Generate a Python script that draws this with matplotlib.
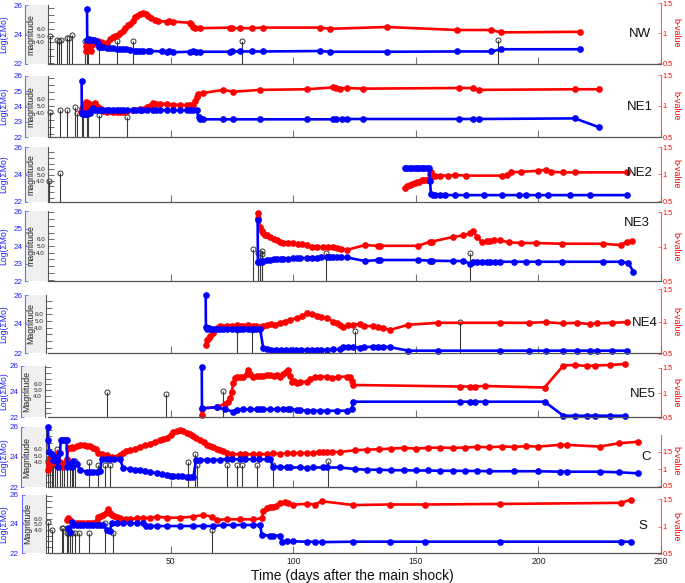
import matplotlib
matplotlib.use('Agg')
import matplotlib.pyplot as plt
from matplotlib.patches import Rectangle

plt.rcParams['font.family'] = ['Liberation Sans', 'DejaVu Sans']

# ---------------- DATA (day, value) ----------------
# NW
nw_logmo = [(15.9,25.7),(16.0,23.6),(16.6,23.7),(17.3,23.6),(18.0,23.65),(18.8,23.6),(19.6,23.55),(20.5,23.45),(20.7,23.15),(21.5,23.15),(22.5,23.12),(23.9,23.1),(25.3,23.1),(26.5,23.08),(28.0,23.05),(29.4,23.05),(30.7,23.0),(32.0,23.0),(33.5,22.95),(35.5,22.9),(36.2,22.88),(37.5,22.88),(38.9,22.88),(40.9,22.88),(41.6,22.88),(46.5,22.85),(48.4,22.83),(49.5,22.85),(51.1,22.8),(57.9,22.83),(59.3,22.85),(60.5,22.83),(62.0,22.83),(74.2,22.83),(75.0,22.85),(78.3,22.85),(83.1,22.85),(87.8,22.85),(110.9,22.88),(115.0,22.83),(138.3,22.83),(166.8,22.85),(180.7,22.85),(184.7,23.0),(216.9,23.0)]
nw_b = [(15.3,0.78),(15.6,0.7),(16.0,0.82),(16.4,0.72),(16.9,0.78),(17.4,0.7),(18.0,0.8),(18.6,0.86),(19.3,0.84),(20.5,0.86),(21.5,0.85),(22.5,0.84),(23.9,0.84),(25.3,0.9),(26.5,0.93),(27.5,0.95),(28.5,0.97),(29.4,1.0),(30.5,1.04),(31.5,1.08),(32.7,1.13),(33.5,1.15),(34.5,1.2),(35.5,1.27),(36.5,1.29),(37.5,1.31),(38.9,1.33),(40.0,1.32),(40.9,1.28),(42.0,1.25),(43.6,1.22),(45.0,1.2),(48.4,1.19),(49.5,1.2),(51.1,1.19),(57.9,1.17),(58.5,1.15),(59.3,1.1),(60.0,1.09),(62.0,1.08),(74.2,1.09),(75.0,1.08),(78.3,1.08),(83.1,1.08),(87.8,1.09),(110.9,1.09),(115.0,1.07),(138.3,1.1),(166.8,1.05),(180.7,1.05),(184.7,1.01),(216.9,1.02)]
nw_mag = [(0.8,4.9),(3.8,4.3),(4.6,4.2),(5.2,4.4),(7.9,4.6),(8.6,4.6),(9.7,5.1),(15.1,4.2),(16.0,4.0),(16.4,3.8),(20.9,3.4),(28.0,4.2),(34.8,4.2),(79.0,4.2),(183.6,4.3)]

# NE1
ne1_logmo = [(13.7,25.67),(13.8,23.57),(14.2,23.5),(14.6,23.55),(15.0,23.48),(15.5,23.52),(16.0,23.5),(16.5,23.55),(17.1,23.6),(17.6,23.8),(18.5,23.88),(19.3,23.8),(20.5,23.77),(21.5,23.75),(22.5,23.77),(23.9,23.75),(25.0,23.77),(26.6,23.75),(28.0,23.77),(29.4,23.75),(30.5,23.77),(32.1,23.77),(34.8,23.75),(36.0,23.77),(37.5,23.77),(38.5,23.77),(40.3,23.75),(42.9,23.77),(44.0,23.77),(45.7,23.75),(48.4,23.77),(51.1,23.77),(53.8,23.75),(56.6,23.77),(57.9,23.77),(59.3,23.77),(60.6,23.77),(61.4,23.3),(62.0,23.2),(63.3,23.16),(71.5,23.16),(75.6,23.16),(86.5,23.16),(105.5,23.16),(116.4,23.16),(117.5,23.18),(120.0,23.18),(121.9,23.18),(128.5,23.18),(167.6,23.18),(173.3,23.18),(175.8,23.18),(214.9,23.22),(224.7,22.64)]
ne1_b = [(13.3,0.9),(13.7,0.97),(14.1,0.88),(14.5,1.02),(14.9,0.92),(15.3,1.07),(15.8,0.96),(16.3,1.05),(16.8,0.93),(17.3,1.03),(17.8,0.97),(18.5,1.0),(19.3,1.05),(20.5,0.99),(21.5,0.95),(22.5,0.92),(23.9,0.91),(25.0,0.92),(26.6,0.91),(28.0,0.9),(29.4,0.91),(30.5,0.9),(32.1,0.92),(34.8,0.93),(37.5,0.95),(40.3,0.99),(41.5,1.0),(42.9,1.05),(44.0,1.03),(45.7,1.04),(48.4,1.03),(51.1,1.02),(53.8,1.02),(56.6,1.01),(57.9,1.01),(59.3,1.02),(60.0,1.08),(60.6,1.15),(61.3,1.19),(63.3,1.21),(71.5,1.26),(75.6,1.23),(86.5,1.26),(105.5,1.27),(116.4,1.3),(117.5,1.29),(119.0,1.28),(121.9,1.29),(128.5,1.28),(167.6,1.29),(173.3,1.29),(175.8,1.26),(214.9,1.27),(224.7,1.27)]
ne1_mag = [(0.8,4.2),(4.9,4.5),(7.9,4.5),(11.0,4.9),(11.9,4.1),(13.7,3.9),(14.4,3.9),(15.8,3.9),(16.4,3.9),(20.9,3.7),(32.1,3.4)]

# NE2
ne2_logmo = [(145.6,24.47),(146.5,24.47),(147.5,24.47),(148.5,24.47),(149.5,24.47),(150.5,24.47),(151.5,24.47),(152.5,24.47),(153.5,24.47),(154.5,24.47),(155.5,24.47),(155.8,23.5),(156.2,22.55),(157.0,22.5),(158.0,22.5),(160.0,22.5),(162.0,22.5),(166.0,22.5),(170.5,22.5),(178.0,22.5),(185.0,22.5),(192.0,22.5),(195.0,22.5),(200.0,22.5),(204.0,22.5),(213.0,22.5),(221.0,22.5),(236.0,22.5)]
ne2_b = [(145.6,0.74),(146.5,0.78),(147.5,0.8),(148.5,0.82),(149.5,0.84),(150.5,0.86),(151.5,0.86),(152.5,0.88),(153.5,0.88),(154.5,0.89),(155.5,0.9),(155.8,1.0),(156.2,1.03),(157.0,0.97),(158.0,0.97),(160.0,0.97),(163.0,0.97),(166.0,0.98),(170.5,0.97),(185.0,0.97),(187.0,0.98),(189.0,1.03),(193.0,1.04),(200.0,1.06),(203.0,1.08),(205.0,1.04),(210.0,1.03),(215.0,1.03),(236.0,1.03)]
ne2_mag = [(0.5,3.9),(4.9,5.4)]

# NE3
ne3_logmo = [(85.5,25.49),(85.6,23.1),(85.8,23.1),(86.5,23.15),(87.2,23.1),(87.8,23.15),(89.2,23.2),(90.5,23.22),(92.0,23.24),(93.3,23.26),(95.0,23.26),(96.0,23.28),(98.0,23.28),(100.0,23.3),(101.5,23.3),(102.8,23.3),(105.5,23.32),(107.5,23.32),(109.6,23.33),(111.5,23.35),(113.7,23.35),(115.0,23.35),(116.4,23.35),(118.0,23.35),(119.5,23.35),(121.8,23.35),(129.3,23.14),(134.7,23.2),(135.5,23.2),(151.0,23.2),(155.8,23.16),(156.5,23.16),(165.3,23.14),(169.4,23.14),(172.1,23.0),(173.5,23.08),(174.8,23.1),(176.9,23.1),(178.9,23.1),(180.3,23.1),(182.5,23.1),(184.3,23.1),(190.0,23.1),(195.0,23.1),(200.0,23.1),(209.5,23.1),(226.5,23.1),(233.6,23.1),(236.7,23.03),(238.7,22.53)]
ne3_b = [(85.5,1.48),(85.8,1.41),(86.5,1.28),(87.2,1.22),(87.8,1.19),(88.5,1.17),(89.2,1.16),(90.5,1.14),(92.0,1.11),(93.3,1.09),(94.5,1.07),(96.0,1.05),(98.0,1.05),(100.0,1.05),(102.0,1.04),(103.5,1.03),(105.5,1.02),(107.5,1.0),(109.6,0.99),(112.0,0.99),(114.0,0.99),(116.4,0.99),(118.0,0.98),(119.5,0.97),(121.8,0.95),(129.3,1.02),(134.7,1.01),(135.5,1.01),(151.0,1.01),(155.8,1.07),(156.5,1.07),(165.3,1.14),(169.4,1.16),(172.1,1.19),(173.5,1.22),(174.8,1.14),(176.9,1.07),(178.9,1.08),(180.3,1.08),(182.0,1.09),(184.3,1.09),(188.0,1.06),(193.0,1.05),(199.0,1.05),(209.5,1.04),(226.5,1.04),(233.6,1.02),(236.0,1.07),(238.0,1.08)]
ne3_mag = [(83.5,4.5),(85.5,4.0),(86.5,3.9),(87.2,3.8),(87.4,4.25),(113.4,4.0),(172.1,4.0)]

# NE4
ne4_logmo = [(64.3,26.0),(64.4,23.81),(64.7,23.66),(65.5,23.7),(66.1,23.66),(67.4,23.66),(68.8,23.66),(70.1,23.66),(71.5,23.66),(72.9,23.66),(75.0,23.66),(77.0,23.66),(78.5,23.66),(79.7,23.66),(81.5,23.66),(83.7,23.66),(85.0,23.66),(86.5,23.66),(87.8,22.32),(89.2,22.25),(91.0,22.21),(93.0,22.21),(95.0,22.21),(97.0,22.21),(99.0,22.21),(101.0,22.21),(103.0,22.21),(105.5,22.21),(107.5,22.21),(109.6,22.21),(111.5,22.21),(113.7,22.21),(116.4,22.25),(119.1,22.25),(120.4,22.44),(122.5,22.4),(124.5,22.4),(127.2,22.37),(129.0,22.4),(132.7,22.44),(134.5,22.44),(136.7,22.44),(139.5,22.4),(146.9,22.16),(159.2,22.16),(184.3,22.16),(196.0,22.16),(203.0,22.16),(210.2,22.16),(215.6,22.16),(221.0,22.16),(223.8,22.16),(229.9,22.16),(236.0,22.16)]
ne4_b = [(64.3,0.64),(64.7,0.72),(65.5,0.75),(66.1,0.77),(67.4,0.83),(68.8,0.9),(70.1,0.93),(71.5,0.92),(72.9,0.93),(75.0,0.93),(77.0,0.94),(78.5,0.93),(79.7,0.93),(81.5,0.94),(83.7,0.93),(85.0,0.93),(86.5,0.92),(87.8,0.93),(89.2,0.95),(91.0,0.96),(92.5,0.95),(94.6,0.98),(96.5,1.0),(98.7,1.03),(101.4,1.05),(103.5,1.08),(105.5,1.13),(107.5,1.11),(109.6,1.08),(111.5,1.07),(113.7,1.05),(116.4,1.0),(118.0,0.97),(119.1,0.94),(120.4,0.92),(122.5,0.94),(124.5,0.95),(127.2,0.96),(129.0,0.93),(132.7,0.93),(134.5,0.92),(136.7,0.9),(139.5,0.87),(146.9,0.95),(159.2,0.98),(184.3,0.98),(196.0,0.98),(203.0,0.99),(210.2,0.97),(215.6,0.98),(221.0,0.96),(223.8,0.97),(229.9,0.98),(236.0,0.99)]
ne4_mag = [(77.2,3.7),(83.3,3.7),(125.2,3.5),(168.0,4.9)]

# NE5
ne5_logmo = [(62.7,25.95),(62.8,22.68),(68.8,22.76),(72.2,22.6),(75.6,22.42),(77.0,22.55),(79.7,22.6),(82.4,22.6),(85.1,22.6),(86.5,22.62),(87.8,22.6),(90.5,22.6),(93.3,22.6),(96.0,22.62),(98.0,22.6),(98.7,22.6),(101.4,22.58),(102.8,22.55),(105.5,22.49),(108.2,22.49),(110.9,22.49),(113.7,22.49),(117.7,22.49),(121.8,22.49),(123.9,22.6),(124.5,23.2),(168.0,23.2),(172.1,23.2),(174.1,23.2),(178.2,23.2),(202.5,23.2),(210.2,22.1),(215.0,22.1),(219.8,22.1),(223.2,22.1),(229.3,22.1),(235.2,22.1)]
ne5_b = [(62.7,0.56),(62.8,0.69),(68.8,0.72),(72.2,0.78),(73.5,0.83),(74.2,0.9),(74.9,1.02),(75.6,1.2),(76.3,1.3),(77.0,1.33),(78.5,1.32),(79.7,1.32),(81.0,1.38),(81.7,1.46),(82.4,1.38),(83.7,1.33),(85.1,1.35),(86.5,1.34),(87.8,1.35),(89.2,1.36),(90.5,1.36),(92.0,1.35),(93.3,1.37),(94.6,1.33),(96.0,1.38),(97.0,1.42),(98.0,1.46),(98.7,1.35),(99.4,1.23),(100.5,1.25),(101.4,1.2),(102.8,1.22),(105.5,1.23),(107.0,1.28),(108.9,1.32),(110.9,1.32),(113.7,1.33),(116.0,1.31),(118.4,1.32),(121.8,1.33),(123.2,1.32),(123.9,1.25),(124.5,1.16),(168.0,1.13),(172.1,1.13),(174.1,1.13),(178.2,1.14),(202.5,1.11),(210.2,1.55),(215.0,1.56),(219.8,1.54),(223.2,1.55),(229.3,1.56),(235.2,1.58)]
ne5_mag = [(23.9,4.7),(48.0,4.3),(71.5,4.9)]

# C
c_logmo = [(0.0,26.0),(0.1,25.1),(0.5,24.3),(1.5,24.2),(2.2,23.8),(2.9,24.0),(3.5,23.7),(4.2,23.35),(4.9,24.25),(5.2,25.13),(6.0,25.13),(6.9,25.13),(7.6,25.13),(7.9,23.35),(9.0,23.55),(9.7,23.35),(10.3,23.7),(11.7,23.55),(13.1,23.13),(15.8,23.02),(17.1,23.02),(18.5,23.02),(19.9,23.02),(21.2,23.05),(21.9,23.85),(23.9,23.85),(25.3,23.85),(27.0,23.85),(29.4,23.85),(30.7,23.25),(33.4,23.2),(35.5,23.15),(37.5,23.13),(39.5,23.08),(41.6,23.02),(44.3,22.91),(46.5,22.85),(48.4,22.8),(50.0,22.76),(51.1,22.73),(53.0,22.72),(54.5,22.7),(56.6,22.69),(58.0,22.69),(59.3,22.69),(60.4,23.8),(62.0,23.8),(64.7,23.8),(67.4,23.8),(70.1,23.82),(72.9,23.85),(75.0,23.85),(78.3,23.85),(80.5,23.85),(83.7,23.85),(86.0,23.85),(89.2,23.85),(90.5,23.85),(91.9,23.35),(94.5,23.33),(97.3,23.32),(98.7,23.3),(102.8,23.3),(105.5,23.28),(108.2,23.3),(112.3,23.3),(113.7,23.3),(119.1,23.3),(125.0,23.2),(130.0,23.15),(135.0,23.15),(140.0,23.12),(145.0,23.12),(150.0,23.1),(155.0,23.1),(160.0,23.08),(165.0,23.08),(170.0,23.07),(175.0,23.07),(180.0,23.05),(190.0,23.05),(200.0,23.05),(208.8,23.02),(211.5,23.02),(225.1,23.02),(233.0,22.98),(240.7,22.91)]
c_b = [(0.0,0.97),(0.3,1.05),(0.5,1.17),(1.0,1.3),(1.5,1.45),(2.2,1.35),(2.9,1.17),(3.5,1.3),(4.2,1.46),(4.9,1.2),(5.6,1.07),(6.2,1.15),(6.9,1.17),(7.6,1.3),(8.3,1.61),(9.0,1.63),(9.7,1.65),(10.3,1.63),(11.7,1.68),(13.1,1.71),(14.5,1.7),(15.8,1.69),(17.1,1.68),(18.5,1.63),(19.5,1.6),(20.5,1.46),(22.0,1.43),(23.9,1.4),(26.0,1.36),(28.0,1.34),(29.4,1.4),(30.7,1.46),(32.0,1.52),(33.4,1.56),(35.5,1.6),(37.5,1.66),(39.5,1.7),(41.6,1.75),(43.5,1.8),(45.7,1.85),(47.0,1.88),(48.4,1.92),(50.0,2.0),(51.1,2.1),(52.5,2.12),(53.8,2.15),(55.0,2.12),(56.6,2.05),(58.0,2.02),(59.3,1.98),(60.5,1.92),(62.0,1.85),(63.5,1.78),(64.7,1.71),(66.0,1.68),(67.4,1.64),(68.8,1.6),(70.1,1.56),(71.5,1.52),(72.9,1.46),(75.0,1.44),(78.3,1.43),(80.5,1.44),(83.7,1.43),(86.0,1.43),(89.2,1.44),(91.9,1.46),(94.5,1.45),(97.3,1.46),(100.0,1.47),(102.8,1.47),(105.5,1.47),(108.2,1.47),(110.5,1.5),(112.3,1.49),(113.7,1.5),(116.0,1.5),(119.1,1.5),(125.0,1.55),(130.0,1.57),(135.0,1.58),(140.0,1.6),(145.0,1.62),(150.0,1.6),(155.0,1.62),(160.0,1.63),(165.0,1.62),(170.0,1.63),(175.0,1.65),(180.0,1.64),(185.0,1.66),(190.0,1.65),(195.0,1.67),(200.0,1.66),(208.8,1.71),(211.5,1.71),(225.1,1.66),(233.0,1.76),(240.7,1.8)]
c_mag = [(0.0,4.3),(0.1,4.0),(0.8,4.6),(1.5,3.6),(2.2,3.6),(2.9,3.6),(3.8,6.0),(4.9,3.6),(5.6,3.6),(6.5,3.6),(7.6,3.6),(9.0,3.6),(9.7,3.6),(10.3,3.6),(11.0,4.25),(16.8,4.1),(20.5,3.6),(23.2,3.6),(25.3,3.6),(57.2,4.1),(60.0,5.2),(60.6,3.6),(72.9,3.6),(77.0,3.6),(79.0,3.6),(85.1,3.6),(91.9,3.6),(114.3,4.25)]

# S
s_logmo = [(8.3,23.7),(9.0,23.47),(9.7,24.16),(10.3,23.93),(11.7,23.93),(13.1,23.9),(14.4,23.93),(15.8,23.93),(17.1,23.93),(18.5,23.9),(19.9,23.93),(21.2,23.93),(22.6,23.93),(23.9,23.59),(25.3,23.5),(25.9,24.05),(28.0,24.05),(30.7,24.05),(33.4,24.05),(36.2,24.05),(38.9,24.05),(40.0,23.86),(41.6,23.86),(44.3,23.86),(48.4,23.86),(53.8,23.86),(59.3,23.86),(63.4,23.86),(67.4,23.86),(71.5,23.93),(75.6,23.93),(79.7,23.93),(83.8,23.93),(86.5,23.93),(87.2,23.24),(90.5,23.2),(91.9,23.2),(94.6,23.2),(95.3,22.78),(97.3,22.85),(100.0,22.8),(105.5,22.78),(108.9,22.78),(111.6,22.75),(124.5,22.78),(139.5,22.78),(153.8,22.78),(184.3,22.78),(233.7,22.78),(237.8,22.78)]
s_b = [(7.6,1.12),(8.3,1.15),(9.0,1.12),(9.7,1.09),(10.3,1.06),(11.7,1.06),(13.1,1.06),(14.4,1.07),(15.8,1.06),(17.1,1.06),(18.5,1.07),(19.9,1.1),(20.5,1.18),(21.5,1.2),(22.6,1.21),(23.5,1.25),(24.6,1.31),(25.3,1.25),(25.9,1.21),(27.0,1.2),(28.0,1.18),(29.5,1.15),(30.7,1.12),(32.0,1.13),(33.4,1.13),(36.2,1.15),(38.9,1.16),(41.6,1.15),(44.3,1.18),(48.4,1.16),(53.8,1.16),(59.3,1.18),(63.4,1.21),(66.7,1.18),(68.8,1.12),(72.9,1.13),(78.3,1.13),(83.8,1.13),(87.2,1.15),(87.8,1.28),(89.2,1.33),(90.5,1.35),(91.9,1.35),(93.0,1.37),(94.6,1.42),(96.7,1.45),(98.0,1.43),(100.0,1.4),(105.5,1.41),(108.9,1.4),(111.6,1.46),(124.5,1.39),(139.5,1.4),(153.8,1.4),(184.3,1.41),(233.7,1.43),(237.8,1.49)]
s_mag = [(0.0,5.45),(1.5,4.0),(5.6,4.3),(6.2,4.3),(7.6,3.5),(8.3,3.5),(9.0,3.5),(9.7,3.5),(11.0,3.5),(12.8,3.5),(16.8,3.5),(23.2,5.3),(26.6,3.5),(66.7,4.0)]

region_names = ['NW', 'NE1', 'NE2', 'NE3', 'NE4', 'NE5', 'C', 'S']
mag_labels = ['magnitude'] * 4 + ['Magnitude'] * 4
x_ticks = [50, 100, 150, 200, 250]

series = [(nw_logmo, nw_b, nw_mag), (ne1_logmo, ne1_b, ne1_mag), (ne2_logmo, ne2_b, ne2_mag),
          (ne3_logmo, ne3_b, ne3_mag), (ne4_logmo, ne4_b, ne4_mag), (ne5_logmo, ne5_b, ne5_mag),
          (c_logmo, c_b, c_mag), (s_logmo, s_b, s_mag)]

# ---------------- LAYOUT (pixels) ----------------
W, H = 685, 583
X0, X1 = 48, 661
layout = [
    dict(yl=(5, 64), xb=25, xm=48, mlim=(0.81, 9.49), bpos=(3, 63), blim=(0.5, 1.5), blab=1.0, lt=[22, 24, 26], name=(640, 34)),
    dict(yl=(76, 137), xb=25, xm=48, mlim=(0.61, 9.33), bpos=(75, 137), blim=(0.5, 1.5), blab=1.0, lt=[22, 23, 24, 25, 26], name=(640, 107)),
    dict(yl=(147, 202), xb=25, xm=48, mlim=(0.26, 9.91), bpos=(147, 201), blim=(0.5, 1.5), blab=1.0, lt=[22, 24, 26], name=(640, 173)),
    dict(yl=(211, 281), xb=25, xm=48, mlim=(-0.22, 10.22), bpos=(212, 281), blim=(0.5, 1.5), blab=1.0, lt=[22, 23, 24, 25, 26], name=(637, 223)),
    dict(yl=(295, 353), xb=25, xm=46, mlim=(0.22, 8.88), bpos=(289, 354), blim=(0.5, 1.5), blab=1.0, lt=[22, 24, 26], name=(645, 323)),
    dict(yl=(366, 417), xb=21, xm=45, mlim=(0.38, 9.17), bpos=(368, 418), blim=(0.5, 1.5), blab=1.0, lt=[22, 24, 26], name=(643, 394)),
    dict(yl=(427, 487), xb=21, xm=45.5, mlim=(0.2, 9.43), bpos=(435, 486), blim=(0.5, 2.0), blab=1.25, lt=[22, 24, 26], name=(646, 457)),
    dict(yl=(495, 553), xb=21.5, xm=45.5, mlim=(-0.04, 10.14), bpos=(499, 554), blim=(0.5, 1.5), blab=1.0, lt=[22, 24, 26], name=(643, 526)),
]

fig = plt.figure(figsize=(W / 100, H / 100), dpi=100)
PT = 72 / 100.0  # points per pixel

def rect(ytop, ybot):
    return [X0 / W, 1 - ybot / H, (X1 - X0) / W, (ybot - ytop) / H]

BLUE, RED = '#0000ff', '#ff0000'
n = len(region_names)
for i, (name, mlab, (lm, bv, mg), L) in enumerate(zip(region_names, mag_labels, series, layout)):
    ytop, ybot = L['yl']
    # grey box
    fig.add_artist(Rectangle((L['xb'] / W, 1 - ybot / H), (L['xm'] - L['xb']) / W, (ybot - ytop) / H,
                             transform=fig.transFigure, facecolor='#efefef', edgecolor='none', zorder=0))
    # magnitude axes
    axM = fig.add_axes(rect(ytop, ybot))
    axM.patch.set_visible(False)
    axM.set_xlim(0, 250)
    lo, hi = L['mlim']
    axM.set_ylim(lo, hi)
    for s in ['top', 'right', 'bottom']:
        axM.spines[s].set_visible(False)
    axM.spines['left'].set_position(('outward', (X0 - L['xm']) * PT))
    axM.spines['left'].set_color('#555555')
    axM.spines['left'].set_linewidth(0.8)
    axM.set_xticks([])
    mt = [k for k in range(-1, 12) if lo <= k <= hi]
    axM.set_yticks(mt)
    axM.set_yticklabels(['%.1f' % k if k in (4, 5, 6) else '' for k in mt])
    axM.tick_params(axis='y', direction='in', length=4, width=0.6, color='#555555', labelsize=4.5,
                    labelcolor='#222222', pad=2.2)
    sd = [d for d, m in mg]
    sm = [m for d, m in mg]
    axM.vlines(sd, lo, sm, colors='#3a3a3a', lw=0.8)
    axM.plot(sd, sm, 'o', mfc='none', mec='#333333', ms=3.6, mew=0.7, clip_on=False)
    fig.text((L['xb'] + 6.0) / W, 1 - (ytop + ybot) / 2 / H, mlab, rotation=90,
             ha='center', va='center', fontsize=6.3, color='#222222')

    # b-value axes
    bt, bb = L['bpos']
    axB = fig.add_axes(rect(bt, bb))
    axB.patch.set_visible(False)
    axB.set_xlim(0, 250)
    axB.set_ylim(*L['blim'])
    for s in ['top', 'left', 'bottom']:
        axB.spines[s].set_visible(False)
    axB.spines['right'].set_color('#ff5a5a')
    axB.spines['right'].set_linewidth(0.8)
    axB.set_xticks([])
    axB.yaxis.tick_right()
    axB.set_yticks([0.5, 1, 1.5])
    axB.set_yticklabels(['0.5', '1', '1.5'])
    axB.tick_params(axis='y', direction='in', length=2, width=0.6, color='#ff5a5a', labelsize=5.3,
                    labelcolor=RED, pad=1.0)
    axB.set_ylabel('b-value', rotation=270, color=RED, fontsize=6.4)
    axB.yaxis.set_label_position('right')
    axB.yaxis.set_label_coords(1 + (680.5 - X1) / (X1 - X0),
                               (L['blab'] - L['blim'][0]) / (L['blim'][1] - L['blim'][0]))
    bd = [d for d, v in bv]
    bvals = [v for d, v in bv]
    axB.plot(bd, bvals, '-o', color=RED, lw=1.9, ms=3.8, clip_on=False)

    # log(sum Mo) axes
    axL = fig.add_axes(rect(ytop, ybot))
    axL.patch.set_visible(False)
    axL.set_xlim(0, 250)
    axL.set_ylim(22, 26)
    axL.spines['top'].set_visible(False)
    axL.spines['right'].set_visible(False)
    axL.spines['bottom'].set_color('#555555')
    axL.spines['bottom'].set_linewidth(0.9)
    axL.spines['left'].set_position(('outward', (X0 - L['xb']) * PT))
    axL.spines['left'].set_color('#6a6aff')
    axL.spines['left'].set_linewidth(0.8)
    axL.set_yticks(L['lt'])
    axL.set_yticklabels([str(t) for t in L['lt']])
    axL.tick_params(axis='y', direction='in', length=2, width=0.6, color='#6a6aff', labelsize=5.8,
                    labelcolor='#2020ff', pad=2)
    axL.set_xticks(x_ticks)
    axL.tick_params(axis='x', direction='in', length=5, width=0.8, color='#777777', labelsize=6.2,
                    labelcolor='#222222', pad=3)
    if i < n - 1:
        axL.set_xticklabels([])
    axL.set_ylabel('Log(ΣMo)', color='#2020ff', fontsize=6.2)
    axL.yaxis.set_label_coords((8.5 - X0) / (X1 - X0), 0.5)
    ld = [d for d, v in lm]
    lv = [v for d, v in lm]
    axL.plot(ld, lv, '-o', color=BLUE, lw=1.9, ms=3.8, clip_on=False)

    fig.text(L['name'][0] / W, 1 - L['name'][1] / H, name, ha='center', va='center', fontsize=9.5,
             color='#111111')

fig.text(352 / W, 1 - 576 / H, 'Time (days after the main shock)', ha='center', va='center',
         fontsize=10, color='#111111')

fig.savefig('out.png', dpi=100)
